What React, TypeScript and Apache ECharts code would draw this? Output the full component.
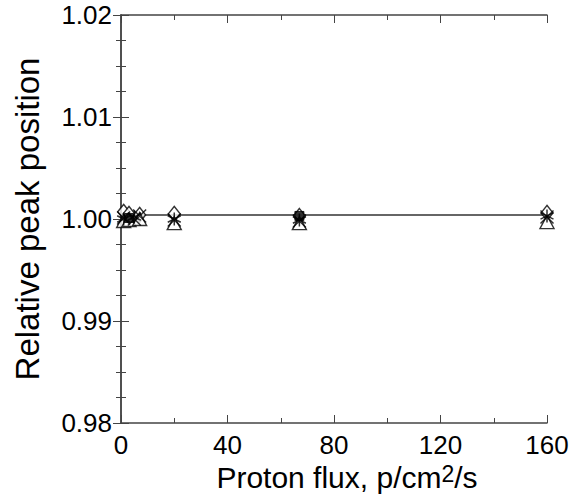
import React, { useEffect, useRef } from "react";
import * as echarts from "echarts";

const xTicks = [0, 40, 80, 120, 160];
const yTicks = [0.98, 0.99, 1.0, 1.01, 1.02];

const fitX = [0, 160];
const fitY = [1.0004, 1.0004];

const diamondX = [1, 3, 7, 20, 67, 160];
const diamondY = [1.0007, 1.0005, 1.0004, 1.0005, 1.0003, 1.0006];

const triangleX = [1, 3, 7, 20, 67, 160];
const triangleY = [0.9998, 0.9999, 1.0, 0.9996, 0.9996, 0.9997];

const crossX = [1, 5, 7, 20, 67, 160];
const crossY = [1.0001, 1.0, 1.0003, 0.9999, 0.9998, 1.0002];

const starX = [1, 5, 20, 67, 160];
const starY = [1.0, 1.0002, 1.0, 0.9999, 1.0003];

const squareX = [3, 67];
const squareY = [1.0001, 1.0003];

const pairs = (xs: number[], ys: number[]) => xs.map((x, i) => [x, ys[i]]);

const FONT = "Liberation Sans";

export default function App() {
  const ref = useRef<HTMLDivElement>(null);
  useEffect(() => {
    const chart = echarts.init(ref.current!, null, { renderer: "svg" });
    const axisColor = "#444";
    const baseAxis = {
      axisLine: { show: true, lineStyle: { color: axisColor, width: 1.5 } },
      splitLine: { show: false },
    };
    const markerStyle = { color: "#fff", borderColor: "#000", borderWidth: 1.4 };
    const cross = "path://M0,0L10,10M10,0L0,10";
    const star = "path://M5,0L5,10M0,2.5L10,7.5M10,2.5L0,7.5";
    chart.setOption({
      animation: false,
      backgroundColor: "#fff",
      grid: {
        left: 121,
        top: 15,
        width: 426,
        height: 408,
        containLabel: false,
        outerBoundsMode: "none",
      },
      xAxis: [
        {
          ...baseAxis,
          type: "value",
          min: xTicks[0],
          max: xTicks[xTicks.length - 1],
          interval: 40,
          position: "bottom",
          axisTick: { show: true, inside: true, length: 8, lineStyle: { color: axisColor } },
          minorTick: { show: true, splitNumber: 2, length: 5, lineStyle: { color: axisColor } },
          axisLabel: { color: "#000", fontSize: 26, fontFamily: FONT, margin: 9 },
          name: "{a|Proton flux, p/cm}{s|2}{a|/s}",
          nameLocation: "middle",
          nameGap: 33,
          nameTextStyle: {
            padding: [0, 0, 0, 26],
            rich: {
              a: { fontSize: 30, lineHeight: 30, fontFamily: FONT, color: "#000" },
              s: {
                fontSize: 23,
                lineHeight: 23,
                fontFamily: FONT,
                color: "#000",
                verticalAlign: "top",
                padding: [0, 0, 7, 0],
              },
            },
          },
        },
        {
          ...baseAxis,
          type: "value",
          min: 0,
          max: 160,
          interval: 40,
          position: "top",
          axisTick: { show: true, inside: true, length: 8, lineStyle: { color: axisColor } },
          minorTick: { show: true, splitNumber: 2, length: 5, lineStyle: { color: axisColor } },
          axisLabel: { show: false },
        },
      ],
      yAxis: [
        {
          ...baseAxis,
          type: "value",
          min: yTicks[0],
          max: yTicks[yTicks.length - 1],
          interval: 0.01,
          position: "left",
          axisTick: { show: true, inside: true, length: 8, lineStyle: { color: axisColor } },
          minorTick: { show: true, splitNumber: 4, length: 5, lineStyle: { color: axisColor } },
          axisLabel: {
            color: "#000",
            fontSize: 26,
            fontFamily: FONT,
            margin: 9,
            formatter: (v: number) => v.toFixed(2),
          },
          name: "Relative peak position",
          nameLocation: "middle",
          nameGap: 77,
          nameTextStyle: { fontSize: 33, fontFamily: FONT, color: "#000" },
        },
        {
          ...baseAxis,
          type: "value",
          min: 0.98,
          max: 1.02,
          interval: 0.01,
          position: "right",
          axisTick: { show: true, inside: true, length: 8, lineStyle: { color: axisColor } },
          minorTick: { show: true, splitNumber: 4, length: 5, lineStyle: { color: axisColor } },
          axisLabel: { show: false },
        },
      ],
      series: [
        {
          type: "line",
          data: pairs(fitX, fitY),
          symbol: "none",
          lineStyle: { color: "#333", width: 1.5 },
          z: 1,
        },
        {
          type: "scatter",
          data: pairs(diamondX, diamondY),
          symbol: "diamond",
          symbolSize: [12, 15],
          itemStyle: markerStyle,
        },
        {
          type: "scatter",
          data: pairs(triangleX, triangleY),
          symbol: "triangle",
          symbolSize: [14, 13],
          itemStyle: markerStyle,
        },
        {
          type: "scatter",
          data: pairs(squareX, squareY),
          symbol: "rect",
          symbolSize: 9,
          itemStyle: { color: "#000", borderColor: "#000" },
        },
        {
          type: "scatter",
          data: pairs(crossX, crossY),
          symbol: cross,
          symbolSize: 13,
          itemStyle: { color: "none", borderColor: "#000", borderWidth: 1.5 },
        },
        {
          type: "scatter",
          data: pairs(starX, starY),
          symbol: star,
          symbolSize: 13,
          itemStyle: { color: "none", borderColor: "#000", borderWidth: 1.5 },
        },
      ],
    });
    return () => chart.dispose();
  }, []);
  return (
    <div
      ref={ref}
      style={{ position: "fixed", left: 0, top: 0, width: 570, height: 494, background: "#fff" }}
    />
  );
}
